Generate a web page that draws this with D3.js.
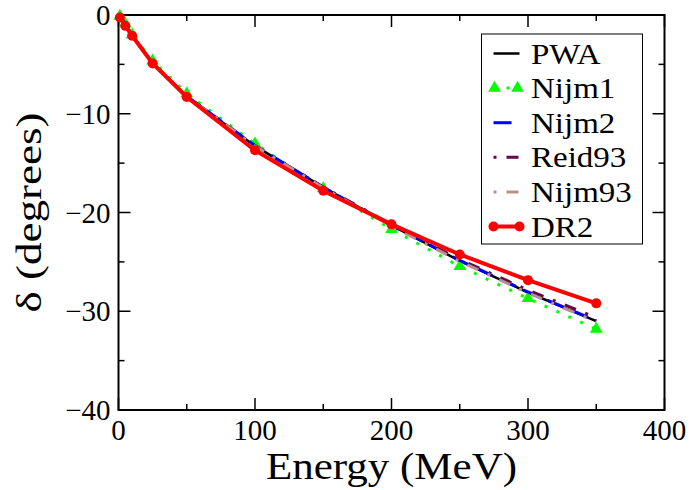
<!DOCTYPE html>
<html><head><meta charset="utf-8"><script src="https://cdn.jsdelivr.net/npm/d3@7"></script>
<style>
  svg#chart text { font-family: "Liberation Serif", "Times New Roman", serif; }
</style>
</head>
<body style="margin:0">
<svg id="chart" width="693" height="490" font-family="Liberation Serif"></svg>
<script>
// energies (MeV) and phase shifts (degrees)
var energies = [1, 5, 10, 25, 50, 100, 150, 200, 250, 300, 350];
var pwa    = [-0.11, -0.94, -2.06, -4.88, -8.25, -13.26, -17.46, -21.30, -24.90, -28.10, -31.00];
var nijm1  = [-0.10, -0.90, -2.00, -4.65, -7.95, -13.05, -17.55, -21.70, -25.45, -28.70, -31.80];
var nijm2  = [-0.11, -0.93, -2.05, -4.86, -8.22, -13.22, -17.45, -21.30, -24.85, -28.05, -30.95];
var reid93 = [-0.11, -0.94, -2.06, -4.87, -8.24, -13.24, -17.42, -21.22, -24.75, -27.85, -30.65];
var nijm93 = [-0.11, -0.94, -2.06, -4.88, -8.26, -13.28, -17.50, -21.38, -24.95, -28.15, -31.05];
var dr2    = [-0.25, -1.10, -2.10, -4.90, -8.30, -13.70, -17.80, -21.20, -24.25, -26.85, -29.20];

var seriesNames = ["PWA", "Nijm1", "Nijm2", "Reid93", "Nijm93", "DR2"];
var xTicks = [0, 100, 200, 300, 400];
var xMinor = [50, 150, 250, 350];
var yTicks = [0, -10, -20, -30, -40];
var yMinor = [-5, -15, -25, -35];

var margin = {left: 118.5, top: 15, right: 28.5, bottom: 80};
var W = 693, H = 490;
var iw = W - margin.left - margin.right, ih = H - margin.top - margin.bottom;

var svg = d3.select("#chart");
var g = svg.append("g").attr("transform", "translate(" + margin.left + "," + margin.top + ")");

var x = d3.scaleLinear().domain([0, 400]).range([0, iw]);
var y = d3.scaleLinear().domain([-40, 0]).range([ih, 0]);

// ticks point inward on all four sides, labels only bottom and left
function ticks(vals, len, horiz, at) {
  vals.forEach(function(v) {
    if (horiz) {
      g.append("line").attr("x1", x(v)).attr("x2", x(v)).attr("y1", at).attr("y2", at === 0 ? len : at - len)
        .attr("stroke", "#000").attr("stroke-width", 1.5);
    } else {
      g.append("line").attr("y1", y(v)).attr("y2", y(v)).attr("x1", at).attr("x2", at === 0 ? len : at - len)
        .attr("stroke", "#000").attr("stroke-width", 1.5);
    }
  });
}
ticks(xTicks, 12, true, ih); ticks(xMinor, 6, true, ih);
ticks(xTicks, 12, true, 0);  ticks(xMinor, 6, true, 0);
ticks(yTicks, 12, false, 0); ticks(yMinor, 6, false, 0);
ticks(yTicks, 12, false, iw); ticks(yMinor, 6, false, iw);

function fmt(d) { return d < 0 ? "\u2212" + Math.abs(d) : "" + d; }
xTicks.forEach(function(v) {
  g.append("text").attr("x", x(v)).attr("y", ih + 30).attr("text-anchor", "middle")
    .attr("font-size", 29).text(fmt(v));
});
yTicks.forEach(function(v) {
  g.append("text").attr("x", -8).attr("y", y(v) + 10).attr("text-anchor", "end")
    .attr("font-size", 29).text(fmt(v));
});

g.append("rect").attr("width", iw).attr("height", ih)
  .attr("fill", "none").attr("stroke", "#000").attr("stroke-width", 2);

// series
var styles = {
  PWA:    {data: pwa,    color: "#000000", width: 2.5, dash: null},
  Nijm1:  {data: nijm1,  color: "#00ff00", width: 3,   dash: "3,10", marker: "triangle"},
  Nijm2:  {data: nijm2,  color: "#0000ff", width: 3,   dash: "18,8"},
  Reid93: {data: reid93, color: "#670748", width: 3,   dash: "3,10,12,10"},
  Nijm93: {data: nijm93, color: "#bc8f8f", width: 3,   dash: "3,10,12,10"},
  DR2:    {data: dr2,    color: "#ff0000", width: 4,   dash: null, marker: "circle"}
};

var line = d3.line().x(function(d) { return x(d[0]); }).y(function(d) { return y(d[1]); });
var tri = d3.symbol().type(d3.symbolTriangle).size(70);

seriesNames.forEach(function(name) {
  var s = styles[name];
  var pts = energies.map(function(e, i) { return [e, s.data[i]]; });
  g.append("path").datum(pts).attr("d", line)
    .attr("fill", "none").attr("stroke", s.color).attr("stroke-width", s.width)
    .attr("stroke-dasharray", s.dash);
  if (s.marker === "triangle") {
    g.selectAll(".tri").data(pts).enter().append("path")
      .attr("d", tri).attr("fill", s.color)
      .attr("transform", function(d) { return "translate(" + x(d[0]) + "," + y(d[1]) + ")"; });
  }
  if (s.marker === "circle") {
    g.selectAll(".dot").data(pts).enter().append("circle")
      .attr("cx", function(d) { return x(d[0]); }).attr("cy", function(d) { return y(d[1]); })
      .attr("r", 5).attr("fill", s.color);
  }
});

// axis titles
svg.append("text").attr("x", margin.left + iw / 2).attr("y", 479)
  .attr("text-anchor", "middle").attr("font-size", 38)
  .attr("textLength", 251).attr("lengthAdjust", "spacingAndGlyphs")
  .text("Energy (MeV)");
svg.append("text").attr("transform", "translate(41," + (margin.top + ih / 2) + ") rotate(-90)")
  .attr("text-anchor", "middle").attr("font-size", 36)
  .attr("textLength", 200).attr("lengthAdjust", "spacingAndGlyphs")
  .text("\u03b4 (degrees)");

// legend
var lg = svg.append("g").attr("transform", "translate(481.5,34)");
lg.append("rect").attr("width", 161).attr("height", 210)
  .attr("fill", "#fff").attr("stroke", "#000").attr("stroke-width", 1);
seriesNames.forEach(function(name, i) {
  var s = styles[name];
  var base = 29.5 + i * 34.6, cy = base - 10;
  var row = lg.append("g");
  row.append("line").attr("x1", 12).attr("x2", 38).attr("y1", cy).attr("y2", cy)
    .attr("stroke", s.color).attr("stroke-width", s.width)
    .attr("stroke-dasharray", s.dash);
  if (s.marker === "triangle") {
    [13, 36].forEach(function(px) {
      row.append("path").attr("d", tri).attr("fill", s.color)
        .attr("transform", "translate(" + px + "," + cy + ")");
    });
  }
  if (s.marker === "circle") {
    [12, 38].forEach(function(px) {
      row.append("circle").attr("cx", px).attr("cy", cy).attr("r", 5).attr("fill", s.color);
    });
  }
  row.append("text").attr("transform", "translate(49.5," + base + ") scale(1.1,1)")
    .attr("font-size", 30).text(name);
});
</script>
</body>
</html>
